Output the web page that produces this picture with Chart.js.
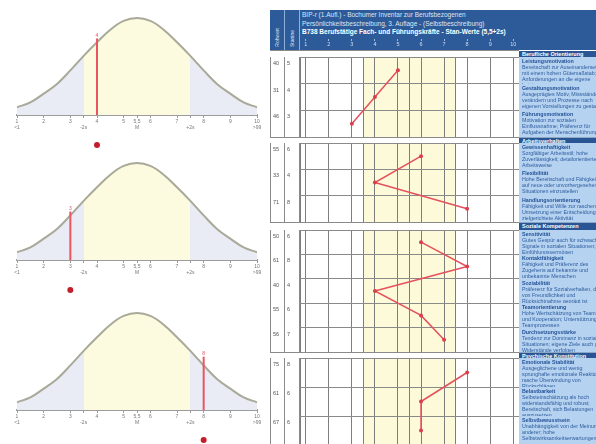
<!DOCTYPE html>
<html lang="de">
<head>
<meta charset="UTF-8">
<meta name="viewport" content="width=device-width, initial-scale=1">
<title>BIP Profil</title>
<script src="https://cdn.jsdelivr.net/npm/chart.js"></script>
<style>
  html, body { margin: 0; padding: 0; }
  body { width: 596px; height: 444px; position: relative; overflow: hidden; background: #fff;
         font-family: "Liberation Sans", Arial, sans-serif; }
  canvas { position: absolute; }
  .box { position: absolute; box-sizing: border-box; overflow: hidden; }
  #kopf { left: 270px; top: 10px; width: 326px; height: 40px; background: #2d5a98; }
  .spalte { position: absolute; top: 0; height: 40px; width: 15px; border-right: 1px solid #8fb0d8; box-sizing: border-box; }
  .vtext { position: absolute; bottom: 3px; left: 4px; writing-mode: vertical-rl; transform: rotate(180deg);
           font-size: 5px; color: #dfe9f7; white-space: nowrap; }
  #titel { position: absolute; left: 32px; top: 1px; color: #dbe7f6; font-size: 6.5px; line-height: 8.5px; white-space: nowrap; }
  #titel b { color: #fff; }
  .zelle { border-right: 1px solid #8a8a8a; border-bottom: 1px solid #8a8a8a; background: #fff;
           font-size: 5.5px; color: #555; padding: 3px 0 0 2px; }
  .text { background: #b6d2f1; border-bottom: 1px solid #8ea7c4; color: #2c5c9c; font-size: 5.3px; line-height: 6px; padding: 1px 0 0 3px; }
  .text div { width: 88px; }
  .text b { color: #1f4f94; }
  .streifen { border-top: 1px solid #8a8a8a; background: #fff; }
  .balken { background: #2a5594; color: #fff; font-size: 5.5px; font-weight: bold; padding: 0 0 0 3px; white-space: nowrap; }
</style>
</head>
<body>

<div id="kopf" class="box">
  <div class="spalte" style="left:0"><span class="vtext">Rohwert</span></div>
  <div class="spalte" style="left:15px"><span class="vtext">Stanine</span></div>
  <div id="titel">
    BIP-r (1.Aufl.) - Bochumer Inventar zur Berufsbezogenen<br>
    Persönlichkeitsbeschreibung, 3. Auflage - (Selbstbeschreibung)<br>
    <b>B738 Berufstätige Fach- und Führungskräfte - Stan-Werte (5,5+2s)</b>
  </div>
</div>

<script>
  // Glockenkurven (links)
  const bellValues = [1, 1.5, 2, 2.5, 3, 3.5, 4, 4.5, 5, 5.5, 6, 6.5, 7, 7.5, 8, 8.5, 9, 9.5, 10];
  const bellHeights = [0.08, 0.13, 0.22, 0.32, 0.46, 0.61, 0.75, 0.88, 0.97, 1, 0.97, 0.88, 0.75, 0.61, 0.46, 0.32, 0.22, 0.13, 0.08];
  const bellTicks = [1, 2, 3, 3.5, 4, 5, 5.5, 6, 7, 7.5, 8, 9, 10];
  const bellTickTop = ['1', '2', '3', '', '4', '5', '5,5', '6', '7', '', '8', '9', '10'];
  const bellTickBottom = ['<1', '', '', '-2s', '', '', 'M', '', '', '+2s', '', '', '>99'];
  const bellMarks = [4, 3, 8];
  const bellMarkTops = [0.79, 0.5, 0.55];
  const bandFrom = 3.5;
  const bandTo = 7.5;

  // Profil (rechts)
  const sectionNames = ['Berufliche Orientierung', 'Arbeitsverhalten', 'Soziale Kompetenzen', 'Psychische Konstitution'];
  const names1 = ['Leistungsmotivation', 'Gestaltungsmotivation', 'Führungsmotivation'];
  const raw1 = [40, 31, 46];
  const stanine1 = [5, 4, 3];
  const names2 = ['Gewissenhaftigkeit', 'Flexibilität', 'Handlungsorientierung'];
  const raw2 = [55, 33, 71];
  const stanine2 = [6, 4, 8];
  const names3 = ['Sensitivität', 'Kontaktfähigkeit', 'Soziabilität', 'Teamorientierung', 'Durchsetzungsstärke'];
  const raw3 = [50, 61, 40, 55, 56];
  const stanine3 = [6, 8, 4, 6, 7];
  const names4 = ['Emotionale Stabilität', 'Belastbarkeit', 'Selbstbewusstsein'];
  const raw4 = [75, 61, 67];
  const stanine4 = [8, 6, 6];
  const desc1 = [
    'Bereitschaft zur Auseinandersetzung mit einem hohen Gütemaßstab; hohe Anforderungen an die eigene Leistung',
    'Ausgeprägtes Motiv, Missstände zu verändern und Prozesse nach eigenen Vorstellungen zu gestalten',
    'Motivation zur sozialen Einflussnahme; Präferenz für Aufgaben der Menschenführung'
  ];
  const desc2 = [
    'Sorgfältiger Arbeitsstil; hohe Zuverlässigkeit; detailorientierte Arbeitsweise',
    'Hohe Bereitschaft und Fähigkeit, sich auf neue oder unvorhergesehene Situationen einzustellen',
    'Fähigkeit und Wille zur raschen Umsetzung einer Entscheidung in zielgerichtete Aktivität'
  ];
  const desc3 = [
    'Gutes Gespür auch für schwache Signale in sozialen Situationen; Einfühlungsvermögen',
    'Fähigkeit und Präferenz des Zugehens auf bekannte und unbekannte Menschen',
    'Präferenz für Sozialverhalten, das von Freundlichkeit und Rücksichtnahme geprägt ist',
    'Hohe Wertschätzung von Teamarbeit und Kooperation; Unterstützung von Teamprozessen',
    'Tendenz zur Dominanz in sozialen Situationen; eigene Ziele auch gegen Widerstände verfolgen'
  ];
  const desc4 = [
    'Ausgeglichene und wenig sprunghafte emotionale Reaktionen; rasche Überwindung von Rückschlägen',
    'Selbsteinschätzung als hoch widerstandsfähig und robust; Bereitschaft, sich Belastungen auszusetzen',
    'Unabhängigkeit von der Meinung anderer; hohe Selbstwirksamkeitserwartungen'
  ];
  const gridTicks = [0.75, 1, 2, 3, 3.5, 4, 5, 5.5, 6, 7, 7.5, 8, 9, 10, 10.25];
  const headerTicks = [1, 2, 3, 4, 5, 6, 7, 8, 9, 10];

  const sections = [
    { names: names1, raw: raw1, stanine: stanine1, desc: desc1 },
    { names: names2, raw: raw2, stanine: stanine2, desc: desc2 },
    { names: names3, raw: raw3, stanine: stanine3, desc: desc3 },
    { names: names4, raw: raw4, stanine: stanine4, desc: desc4 }
  ];

  // Layout
  const bellTops = [0, 145, 295];
  const dotOffset = 138;
  const stripTops = [50, 137, 222, 352];
  const secTops = [57, 143, 230, 358];
  const secHeights = [80, 79, 122, 87];

  const bandPlugin = {
    id: 'band',
    beforeDraw(chart, args, opts) {
      const a = chart.chartArea;
      const x = chart.scales.x;
      const l = x.getPixelForValue(opts.from);
      const r = x.getPixelForValue(opts.to);
      chart.ctx.save();
      chart.ctx.fillStyle = opts.color;
      chart.ctx.fillRect(l, a.top, r - l, a.bottom - a.top);
      chart.ctx.restore();
    }
  };

  const markLabel = {
    id: 'markLabel',
    afterDatasetsDraw(chart, args, opts) {
      const pt = chart.getDatasetMeta(0).data[1];
      if (!pt) return;
      const ctx = chart.ctx;
      ctx.save();
      ctx.fillStyle = '#e0505a';
      ctx.font = '5px "Liberation Sans"';
      ctx.textAlign = 'center';
      ctx.textBaseline = 'bottom';
      ctx.fillText(opts.text, pt.x, pt.y - 0.5);
      ctx.restore();
    }
  };

  function addCanvas(left, top, w, h) {
    const c = document.createElement('canvas');
    c.width = w;
    c.height = h;
    c.style.left = left + 'px';
    c.style.top = top + 'px';
    document.body.appendChild(c);
    return c;
  }

  function addBox(cls, left, top, w, h, html) {
    const d = document.createElement('div');
    d.className = 'box ' + cls;
    d.style.left = left + 'px';
    d.style.top = top + 'px';
    d.style.width = w + 'px';
    d.style.height = h + 'px';
    d.innerHTML = html || '';
    document.body.appendChild(d);
    return d;
  }

  const quiet = {
    responsive: false,
    animation: false,
    events: []
  };

  // --- Glockenkurven ---
  bellMarks.forEach((mark, i) => {
    const cv = addCanvas(0, bellTops[i], 274, 132);
    new Chart(cv, {
      type: 'scatter',
      data: {
        datasets: [
          {
            data: [{ x: mark, y: 0 }, { x: mark, y: bellMarkTops[i] }],
            showLine: true,
            borderColor: '#ea5560',
            borderWidth: 2,
            pointRadius: 0
          },
          {
            data: bellValues.map((v, k) => ({ x: v, y: bellHeights[k] })),
            showLine: true,
            borderColor: '#a9a999',
            borderWidth: 2,
            pointRadius: 0,
            tension: 0.4,
            fill: 'origin',
            backgroundColor: (ctx) => {
              const ch = ctx.chart;
              const a = ch.chartArea;
              if (!a) return '#fdfbdf';
              const x = ch.scales.x;
              const g = ch.ctx.createLinearGradient(a.left, 0, a.right, 0);
              const p1 = (x.getPixelForValue(bandFrom) - a.left) / (a.right - a.left);
              const p2 = (x.getPixelForValue(bandTo) - a.left) / (a.right - a.left);
              g.addColorStop(0, '#e9ebf5');
              g.addColorStop(p1, '#e9ebf5');
              g.addColorStop(p1, '#fdfbdf');
              g.addColorStop(p2, '#fdfbdf');
              g.addColorStop(p2, '#e9ebf5');
              g.addColorStop(1, '#e9ebf5');
              return g;
            }
          }
        ]
      },
      options: {
        ...quiet,
        layout: { autoPadding: false, padding: { left: 17, right: 17, top: 0, bottom: 0 } },
        plugins: { legend: { display: false }, tooltip: { enabled: false }, markLabel: { text: String(mark) } },
        scales: {
          x: {
            type: 'linear',
            min: 1,
            max: 10,
            position: 'bottom',
            afterBuildTicks: (axis) => { axis.ticks = bellTicks.map(v => ({ value: v })); },
            ticks: {
              autoSkip: false,
              maxRotation: 0,
              padding: 1,
              color: '#777',
              font: { size: 5 },
              callback: (value, index) => [bellTickTop[index], bellTickBottom[index]]
            },
            grid: { drawOnChartArea: false, color: '#9a9a9a', tickLength: 3 },
            border: { display: true, color: '#9c9c9c', width: 2 }
          },
          y: { type: 'linear', display: false, min: 0, max: 1.186 }
        }
      },
      plugins: [markLabel]
    });

    // Markierungspunkt unter der Achse
    const dc = addCanvas(0, bellTops[i] + dotOffset, 274, 14);
    new Chart(dc, {
      type: 'scatter',
      data: {
        datasets: [{
          data: [{ x: mark, y: 0 }],
          pointRadius: 3,
          pointBackgroundColor: '#c21f2a',
          pointBorderWidth: 0
        }]
      },
      options: {
        ...quiet,
        layout: { autoPadding: false, padding: { left: 17, right: 17, top: 0, bottom: 0 } },
        plugins: { legend: { display: false }, tooltip: { enabled: false } },
        scales: {
          x: { type: 'linear', display: false, min: 1, max: 10 },
          y: { type: 'linear', display: false, min: -1, max: 1 }
        }
      }
    });
  });

  // --- Kopfzeile Achse ---
  const hc = addCanvas(300, 32, 219, 14);
  new Chart(hc, {
    type: 'scatter',
    data: { datasets: [] },
    options: {
      ...quiet,
      layout: { autoPadding: false, padding: 0 },
      plugins: { legend: { display: false }, tooltip: { enabled: false } },
      scales: {
        x: {
          type: 'linear',
          min: 0.75,
          max: 10.25,
          position: 'bottom',
          afterBuildTicks: (axis) => { axis.ticks = headerTicks.map(v => ({ value: v })); },
          ticks: { color: '#cfdff3', font: { size: 5.5 }, padding: 0, maxRotation: 0, autoSkip: false },
          grid: { drawOnChartArea: false, color: '#9fbbe0', tickLength: 2 },
          border: { display: false }
        },
        y: { display: false, min: 0, max: 1 }
      }
    }
  });

  // --- Profilabschnitte ---
  sections.forEach((sec, s) => {
    const n = sec.names.length;
    const top = secTops[s];
    const h = secHeights[s];
    const rh = h / n;

    addBox('streifen', 270, stripTops[s], 249, top - stripTops[s]);
    addBox('balken', 519, stripTops[s] + 1, 77, top - stripTops[s] - 1, sectionNames[s]);

    sec.names.forEach((name, k) => {
      const y = top + k * rh;
      const c1 = addBox('zelle', 270, y, 15, rh + 1, String(sec.raw[k]));
      c1.style.borderLeft = '1px solid #8a8a8a';
      addBox('zelle', 285, y, 15, rh + 1, String(sec.stanine[k]));
      addBox('text', 519, y, 77, rh + 1, '<div><b>' + name + '</b><br>' + sec.desc[k] + '</div>');
    });

    const cv = addCanvas(300, top, 219, Math.round(h) + 1);
    const bounds = Array.from({ length: n + 1 }, (_, k) => k - 0.5);
    new Chart(cv, {
      type: 'scatter',
      data: {
        datasets: [{
          data: sec.stanine.map((v, k) => ({ x: v, y: k })),
          showLine: true,
          borderColor: '#e4505c',
          borderWidth: 1.5,
          pointRadius: 2,
          pointBackgroundColor: '#d9404c',
          pointBorderWidth: 0
        }]
      },
      options: {
        ...quiet,
        layout: { autoPadding: false, padding: { top: 0, left: 0, right: 0, bottom: 1 } },
        plugins: {
          legend: { display: false },
          tooltip: { enabled: false },
          band: { from: bandFrom, to: bandTo, color: '#fcfad9' }
        },
        scales: {
          x: {
            type: 'linear',
            min: 0.75,
            max: 10.25,
            afterBuildTicks: (axis) => { axis.ticks = gridTicks.map(v => ({ value: v })); },
            ticks: { display: false },
            grid: { color: '#7d7d7d', drawTicks: false },
            border: { display: false }
          },
          y: {
            type: 'linear',
            reverse: true,
            min: -0.5,
            max: n - 0.5,
            afterBuildTicks: (axis) => { axis.ticks = bounds.map(v => ({ value: v })); },
            ticks: { display: false },
            grid: { color: '#8a8a8a', drawTicks: false },
            border: { display: false }
          }
        }
      },
      plugins: [bandPlugin]
    });
  });
</script>
</body>
</html>
